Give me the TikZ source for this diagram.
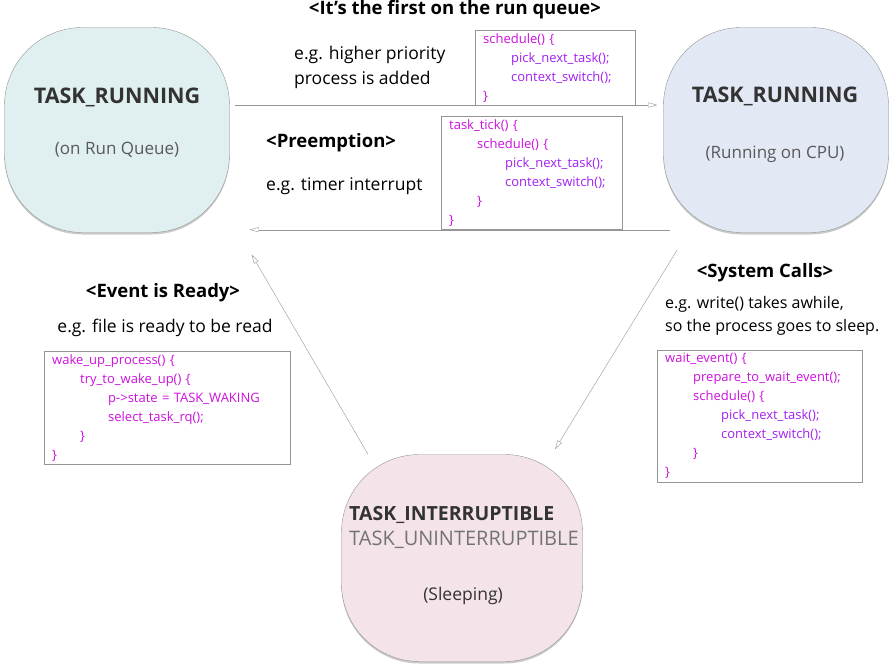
\documentclass[tikz,border=0pt]{standalone}
\usepackage{fontspec}
\setmainfont{Open Sans}
\usetikzlibrary{arrows.meta,shadows}
\definecolor{runqfill}{RGB}{224,240,240}
\definecolor{cpufill}{RGB}{227,232,245}
\definecolor{sleepfill}{RGB}{244,228,234}
\definecolor{codepink}{RGB}{204,17,221}
\definecolor{codeviolet}{RGB}{160,32,240}
\definecolor{edgegray}{RGB}{150,150,150}
\newcommand{\ind}{\hspace*{28pt}}

\tikzset{state/.style={draw=edgegray,rounded corners=78pt,minimum width=225pt,minimum height=205pt,
           drop shadow={shadow xshift=0pt,shadow yshift=-2pt,opacity=0.35,fill=black!60}},
         statename/.style={text=black!80,font=\bfseries\fontsize{21.5}{25}\selectfont},
         statesub/.style={text=black!65,font=\fontsize{17}{20}\selectfont},
         head/.style={inner xsep=0pt,font=\bfseries\fontsize{18.5}{22}\selectfont},
         note/.style={inner xsep=0pt,align=left,font=\fontsize{17.5}{25}\selectfont},
         codebox/.style={draw=edgegray,anchor=north west,align=left,inner xsep=8pt,inner ysep=3pt,
           text=codepink,font=\fontsize{13}{19}\selectfont},
         trans/.style={draw=edgegray,-{Triangle[open,length=9pt,width=5pt]}}}

\begin{document}
\begin{tikzpicture}[x=1pt,y=-1pt]
\useasboundingbox (0,0) rectangle (892,666);

% states
\node [state,fill=runqfill] (runq) at (117,130) {};
\node [state,fill=cpufill] (cpu) at (776,130) {};
\node [state,fill=sleepfill,minimum width=241pt,minimum height=207pt] (sleep) at (462,558) {};

\node [statename] (runq-name) at (117,97) {TASK\_RUNNING};
\node [statesub] (runq-sub) at (117,150) {(on Run Queue)};
\node [statename] (cpu-name) at (775,96) {TASK\_RUNNING};
\node [statesub] (cpu-sub) at (775,154) {(Running on CPU)};
\node [statename,anchor=west,inner sep=0pt,font=\bfseries\fontsize{19.5}{22}\selectfont] (sleep-int) at (349,515) {TASK\_INTERRUPTIBLE};
\node [statesub,anchor=west,inner sep=0pt,text=black!55,font=\fontsize{20}{22}\selectfont] (sleep-unint) at (349,540) {TASK\_UNINTERRUPTIBLE};
\node [statesub,text=black!80,font=\fontsize{17.5}{20}\selectfont] (sleep-sub) at (463,596) {(Sleeping)};

% transitions
\draw [trans] ([yshift=25pt,xshift=5pt]runq.east) -- ([yshift=25pt,xshift=-6pt]cpu.west);
\draw [trans] ([shift={(7pt,3pt)}]cpu.south west) -- ([shift={(20pt,3pt)}]runq.south east);
\draw [trans] ([shift={(14pt,-17pt)}]cpu.south west) -- ([shift={(93pt,5pt)}]sleep.north);
\draw [trans] ([xshift=-94pt]sleep.north) -- ([shift={(22pt,-22pt)}]runq.south east);

% first on the run queue
\node [head] (first-head) at (455,10) {<It’s the first on the run queue>};
\node [note,anchor=west] (first-note) at (294,67.5) {e.g. higher priority\\process is added};
\node [codebox,text width=144pt] (first-code) at (475,30) {schedule() \{\\
\ind{\color{codeviolet}pick\_next\_task();}\\
\ind{\color{codeviolet}context\_switch();}\\
\}};

% preemption
\node [head,anchor=west] (preempt-head) at (266,143) {<Preemption>};
\node [note,anchor=west] (preempt-note) at (266,186) {e.g. timer interrupt};
\node [codebox,text width=165pt] (preempt-code) at (441,116) {task\_tick() \{\\
\ind schedule() \{\\
\ind\ind{\color{codeviolet}pick\_next\_task();}\\
\ind\ind{\color{codeviolet}context\_switch();}\\
\ind\}\\
\}};

% event is ready
\node [head] (event-head) at (163,293) {<Event is Ready>};
\node [note] (event-note) at (165,328) {e.g. file is ready to be read};
\node [codebox,text width=230pt] (event-code) at (44,351) {wake\_up\_process() \{\\
\ind try\_to\_wake\_up() \{\\
\ind\ind p->state = TASK\_WAKING\\
\ind\ind select\_task\_rq();\\
\ind\}\\
\}};

% system calls
\node [head] (sys-head) at (765,273) {<System Calls>};
\node [note,anchor=west,font=\fontsize{16}{23}\selectfont] (sys-note) at (665,315.5) {e.g. write() takes awhile,\\so the process goes to sleep.};
\node [codebox,text width=189pt] (sys-code) at (657,350) {wait\_event() \{\\
\ind prepare\_to\_wait\_event();\\
\ind schedule() \{\\
\ind\ind{\color{codeviolet}pick\_next\_task();}\\
\ind\ind{\color{codeviolet}context\_switch();}\\
\ind\}\\
\}};
\end{tikzpicture}
\end{document}
